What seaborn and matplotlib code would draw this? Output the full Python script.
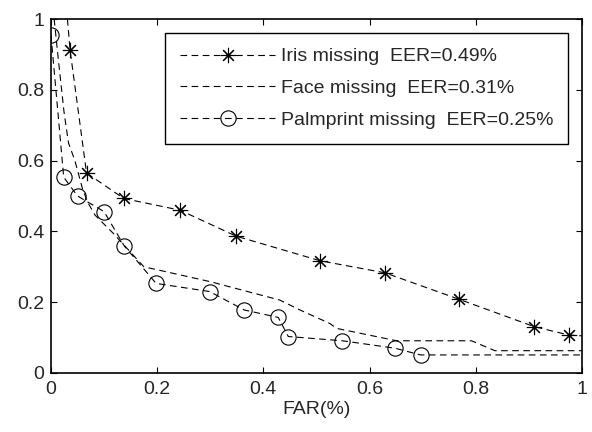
import matplotlib
matplotlib.use('Agg')
import matplotlib.pyplot as plt
import seaborn as sns

# Iris missing (line points; first and last have no marker)
iris_far = [0.031, 0.036, 0.067, 0.137, 0.243, 0.348, 0.507, 0.629, 0.769, 0.910, 0.976, 1.0]
iris_frr = [1.0, 0.912, 0.565, 0.493, 0.460, 0.387, 0.317, 0.283, 0.208, 0.131, 0.107, 0.105]

# Face missing (no markers)
face_far = [0.006, 0.013, 0.0245, 0.033, 0.045, 0.060, 0.070, 0.083, 0.117, 0.175,
            0.300, 0.431, 0.469, 0.525, 0.538, 0.651, 0.792, 0.836, 1.0]
face_frr = [1.0, 0.898, 0.738, 0.650, 0.600, 0.517, 0.480, 0.446, 0.395, 0.300,
            0.258, 0.206, 0.178, 0.140, 0.126, 0.091, 0.091, 0.063, 0.063]

# Palmprint missing (last point has no marker)
palm_far = [0.0, 0.024, 0.050, 0.100, 0.138, 0.198, 0.299, 0.364, 0.428, 0.447,
            0.549, 0.648, 0.696, 1.0]
palm_frr = [0.955, 0.553, 0.500, 0.456, 0.359, 0.253, 0.230, 0.178, 0.157, 0.103,
            0.091, 0.070, 0.051, 0.051]

labels = ['Iris missing  EER=0.49%', 'Face missing  EER=0.31%', 'Palmprint missing  EER=0.25%']
ticks = [0, 0.2, 0.4, 0.6, 0.8, 1]
tick_labels = ['0', '0.2', '0.4', '0.6', '0.8', '1']

sns.set_style('ticks', {'xtick.direction': 'in', 'ytick.direction': 'in'})
plt.rcParams['font.family'] = ['Liberation Sans', 'DejaVu Sans']
plt.rcParams['font.size'] = 14

fig = plt.figure(figsize=(5.92, 4.32), dpi=100)
ax = fig.add_axes([0.0861, 0.1366, 0.8969, 0.8194])

common = dict(color='black', linewidth=0.8, dashes=(6, 4), sort=False, estimator=None, ax=ax)
sns.lineplot(x=iris_far, y=iris_frr, marker=(8, 2, 0), markersize=11, markeredgewidth=0.8,
             markeredgecolor='black', markevery=list(range(1, len(iris_far) - 1)),
             label=labels[0], **common)
sns.lineplot(x=face_far, y=face_frr, label=labels[1], **common)
sns.lineplot(x=palm_far, y=palm_frr, marker='o', markersize=11, markerfacecolor='none',
             markeredgecolor='black', markeredgewidth=0.8,
             markevery=list(range(0, len(palm_far) - 1)), label=labels[2], **common)

ax.set_xlim(0, 1)
ax.set_ylim(0, 1)
ax.set_xticks(ticks)
ax.set_xticklabels(tick_labels)
ax.set_yticks(ticks)
ax.set_yticklabels(tick_labels)
ax.tick_params(axis='both', which='both', direction='in', top=True, right=True,
               length=4, width=0.8, color='black', labelsize=14)
ax.tick_params(axis='x', pad=6)
ax.tick_params(axis='y', pad=5)
for sp in ax.spines.values():
    sp.set_visible(True)
    sp.set_linewidth(1.2)
    sp.set_color('black')
ax.set_xlabel('FAR(%)', fontsize=14, labelpad=2)
ax.set_ylabel('')

leg = ax.legend(loc='upper right', bbox_to_anchor=(0.974, 0.96), borderaxespad=0,
                fancybox=False, framealpha=1, edgecolor='black', fontsize=14,
                handlelength=4.9, handletextpad=0.3, labelspacing=0.73, borderpad=0.75)
leg.get_frame().set_linewidth(1.0)

fig.savefig('out.png', dpi=100)
